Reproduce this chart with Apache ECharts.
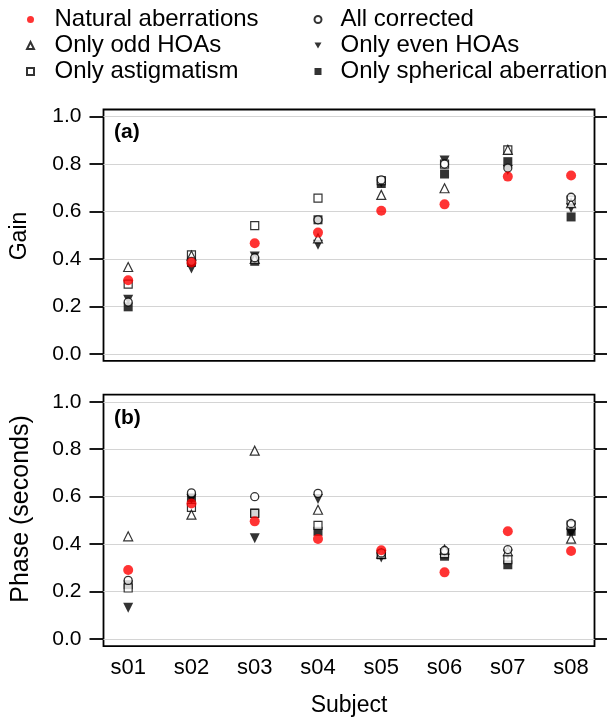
<!DOCTYPE html>
<html><head><meta charset="utf-8">
<script src="https://cdn.jsdelivr.net/npm/echarts@6/dist/echarts.min.js"></script>
<style>html,body{margin:0;padding:0;background:#fff}#c{width:607px;height:722px}</style>
</head><body><div id="c"></div>
<script>
const subjects = ['s01','s02','s03','s04','s05','s06','s07','s08'];
const yTicks = [0, 0.2, 0.4, 0.6, 0.8, 1.0];
const xTicks = [1, 2, 3, 4, 5, 6, 7, 8];

// Panel (a): Gain
const gainNatural   = [0.310, 0.385, 0.466, 0.511, 0.603, 0.630, 0.747, 0.752];
const gainAll       = [0.218, 0.390, 0.405, 0.565, 0.733, 0.800, 0.783, 0.660];
const gainOdd       = [0.366, 0.414, 0.400, 0.487, 0.670, 0.698, 0.860, 0.635];
const gainEven      = [0.228, 0.360, 0.410, 0.460, 0.722, 0.815, 0.775, 0.615];
const gainAstig     = [0.294, 0.417, 0.540, 0.656, 0.730, 0.800, 0.860, 0.648];
const gainSpherical = [0.198, 0.385, 0.390, 0.565, 0.718, 0.758, 0.810, 0.577];

// Panel (b): Phase (seconds)
const phaseNatural   = [0.291, 0.571, 0.496, 0.422, 0.374, 0.281, 0.454, 0.371];
const phaseAll       = [0.247, 0.616, 0.600, 0.614, 0.363, 0.373, 0.377, 0.487];
const phaseOdd       = [0.433, 0.524, 0.794, 0.545, 0.360, 0.377, 0.370, 0.423];
const phaseEven      = [0.132, 0.590, 0.425, 0.590, 0.344, 0.362, 0.356, 0.445];
const phaseAstig     = [0.215, 0.555, 0.530, 0.479, 0.358, 0.360, 0.335, 0.480];
const phaseSpherical = [0.229, 0.595, 0.531, 0.454, 0.355, 0.349, 0.313, 0.454];

const FONT = 'Liberation Sans, Arial, Helvetica, sans-serif';
const INV_TRI = 'path://M0,0L2,0L1,1.732Z';

const styles = {
  'Only spherical aberration': {symbol: 'rect', symbolSize: 9, itemStyle: {color: '#000', borderColor: '#000', borderWidth: 0}},
  'Only even HOAs': {symbol: INV_TRI, symbolSize: 10, itemStyle: {color: '#000', borderColor: '#000', borderWidth: 0}},
  'Only astigmatism': {symbol: 'rect', symbolSize: 8, itemStyle: {color: '#fff', borderColor: '#000', borderWidth: 1.2}},
  'Only odd HOAs': {symbol: 'triangle', symbolSize: 9, itemStyle: {color: '#fff', borderColor: '#000', borderWidth: 1.2}},
  'All corrected': {symbol: 'circle', symbolSize: 8, itemStyle: {color: '#fff', borderColor: '#000', borderWidth: 1.3}},
  'Natural aberrations': {symbol: 'circle', symbolSize: 10, itemStyle: {color: '#ff0000', borderColor: '#ff0000', borderWidth: 0}}
};

const panelA = {
  'Only spherical aberration': gainSpherical, 'Only even HOAs': gainEven,
  'Only astigmatism': gainAstig, 'Only odd HOAs': gainOdd,
  'All corrected': gainAll, 'Natural aberrations': gainNatural
};
const panelB = {
  'Only spherical aberration': phaseSpherical, 'Only even HOAs': phaseEven,
  'Only astigmatism': phaseAstig, 'Only odd HOAs': phaseOdd,
  'All corrected': phaseAll, 'Natural aberrations': phaseNatural
};

const drawOrder = ['Only spherical aberration','Only even HOAs','Only astigmatism','Only odd HOAs','All corrected','Natural aberrations'];

const series = [];
[panelA, panelB].forEach((panel, gi) => {
  series.push({
    type: 'scatter', name: 'grid' + gi, xAxisIndex: gi, yAxisIndex: gi * 2, data: [], silent: true,
    markLine: {
      silent: true, symbol: 'none', z: 1, animation: false,
      label: {show: false},
      lineStyle: {color: '#d4d4d4', width: 1, type: 'solid'},
      data: yTicks.map(v => ({yAxis: v}))
    }
  });
  drawOrder.forEach(name => {
    const st = styles[name];
    series.push({
      type: 'scatter', name: name, xAxisIndex: gi, yAxisIndex: gi * 2,
      symbol: st.symbol, symbolSize: st.symbolSize, itemStyle: st.itemStyle,
      z: 3, animation: false,
      data: panel[name].map((v, i) => [xTicks[i], v])
    });
  });
});

const gridTops = [109.5, 394.7];
const grids = gridTops.map(t => ({
  left: 103.5, top: t, width: 491, height: 251.4,
  show: true, borderColor: '#000', borderWidth: 1.8, backgroundColor: '#fff'
}));

const xAxes = [0, 1].map(gi => ({
  type: 'value', gridIndex: gi, min: 0.61, max: 8.37,
  axisLine: {show: false}, axisTick: {show: false}, splitLine: {show: false},
  axisLabel: {
    show: gi === 1, customValues: xTicks, margin: 11,
    formatter: v => subjects[Math.round(v) - 1] || '',
    fontSize: 22, color: '#000', fontFamily: FONT
  }
}));

const yAxes = [];
[0, 1].forEach(gi => {
  yAxes.push({
    type: 'value', gridIndex: gi, position: 'left', min: -0.03, max: 1.03,
    axisLine: {show: false}, splitLine: {show: false},
    axisTick: {show: true, customValues: yTicks, length: 14, lineStyle: {color: '#000', width: 1.8}},
    axisLabel: {customValues: yTicks, margin: 22, fontSize: 21, color: '#000', fontFamily: FONT,
      formatter: v => v.toFixed(1)}
  });
  yAxes.push({
    type: 'value', gridIndex: gi, position: 'right', min: -0.03, max: 1.03,
    axisLine: {show: false}, splitLine: {show: false},
    axisTick: {show: true, customValues: yTicks, length: 14, lineStyle: {color: '#000', width: 1.8}},
    axisLabel: {show: false}
  });
});

function legendCfg(left, pad, names) {
  return {
    orient: 'vertical', left: left, top: 7.5, padding: 0,
    itemWidth: 7, itemHeight: 7, itemGap: 2,
    textStyle: {fontSize: 24, color: '#000', fontFamily: FONT, lineHeight: 22, padding: [0, 0, 0, pad]},
    selectedMode: false, data: names
  };
}

const option = {
  animation: false,
  backgroundColor: '#fff',
  textStyle: {fontFamily: FONT},
  grid: grids,
  xAxis: xAxes,
  yAxis: yAxes,
  legend: [
    legendCfg(26, 15.5, ['Natural aberrations', 'Only odd HOAs', 'Only astigmatism']),
    legendCfg(313.5, 14, ['All corrected', 'Only even HOAs', 'Only spherical aberration'])
  ],
  graphic: [
    {type: 'text', x: 114, y: 132, style: {text: '(a)', fontSize: 21, fontWeight: 'bold', fontFamily: FONT, fill: '#000', align: 'left', verticalAlign: 'middle'}},
    {type: 'text', x: 114, y: 418, style: {text: '(b)', fontSize: 21, fontWeight: 'bold', fontFamily: FONT, fill: '#000', align: 'left', verticalAlign: 'middle'}},
    {type: 'text', x: 20, y: 236, rotation: Math.PI / 2, style: {text: 'Gain', fontSize: 23, fontFamily: FONT, fill: '#000', align: 'center', verticalAlign: 'middle'}},
    {type: 'text', x: 21.5, y: 509, rotation: Math.PI / 2, style: {text: 'Phase (seconds)', fontSize: 25, fontFamily: FONT, fill: '#000', align: 'center', verticalAlign: 'middle'}},
    {type: 'text', x: 349, y: 706, style: {text: 'Subject', fontSize: 23, fontFamily: FONT, fill: '#000', align: 'center', verticalAlign: 'middle'}}
  ],
  series: series
};

const chart = echarts.init(document.getElementById('c'), null, {renderer: 'canvas'});
chart.setOption(option);
</script>
</body></html>
